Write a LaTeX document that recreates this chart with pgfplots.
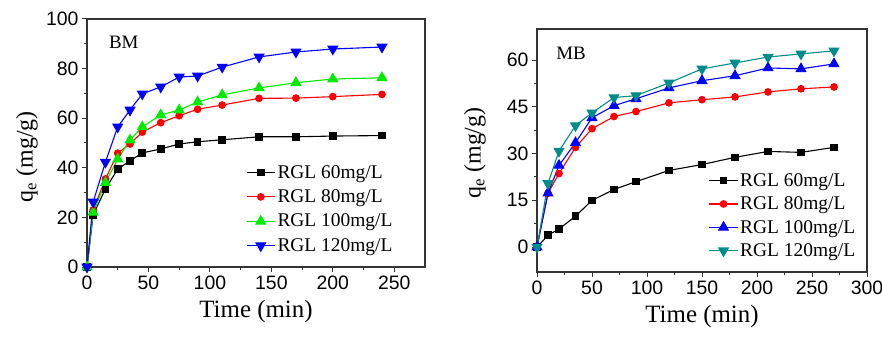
\documentclass[border=0pt]{standalone}
\usepackage{fontspec}
\setmainfont{Liberation Serif}
\setsansfont{Liberation Sans}
\usepackage{pgfplots}
\pgfplotsset{compat=1.18}
\definecolor{mygreen}{RGB}{0,235,0}
\definecolor{myteal}{RGB}{0,140,140}
\begin{document}
\begin{tikzpicture}
\useasboundingbox (0bp,0bp) rectangle (882bp,338bp);
\pgfplotsset{
  every axis/.append style={
    scale only axis,
    axis line style={line width=1.2bp, black!80},
    tick pos=left, tick align=outside,
    major tick length=5bp, minor tick length=3bp,
    every tick/.style={line width=1bp, black!80},
    tick label style={font=\fontsize{19.5}{20}\selectfont\sffamily},
    /pgf/number format/assume math mode=true,
    xlabel style={font=\fontsize{25}{26}\selectfont, yshift=-4bp},
    legend style={draw=none, fill=none, font=\fontsize{19.5}{20}\selectfont, row sep=6bp, inner sep=0pt},
    legend cell align=left,
    legend image code/.code={\draw[mark repeat=2,mark phase=2] plot coordinates {(0cm,0cm) (0.5cm,0cm) (1cm,0cm)};},
    xlabel={Time (min)},
    ylabel={q\textsubscript{e} (mg/g)},
    minor x tick num=1, minor y tick num=1,
    every axis plot/.append style={line width=1.1bp},
  }
}
% Left: BM
\begin{axis}[at={(87bp,71bp)}, anchor=south west, width=338bp, height=248bp,
  xmin=0, xmax=275, ymin=0, ymax=100,
  xtick={0,50,...,250}, ytick={0,20,...,100},
  every axis y label/.style={at={(axis description cs:-0.178,0.444)}, rotate=90, anchor=center, font=\fontsize{24}{25}\selectfont},
  legend style={at={(0.47,0.419)}, anchor=north west}]
\addplot[black, mark=square*, mark size=3.3] coordinates {(0,0)(5,21)(15,31.5)(25,39.5)(35,42.8)(45,46)(60,47.6)(75,49.6)(90,50.5)(110,51.3)(140,52.5)(170,52.5)(200,52.8)(240,53)};
\addplot[red, mark=*, mark size=3.3] coordinates {(0,0)(5,23)(15,35.5)(25,45.9)(35,49.6)(45,54.4)(60,58.2)(75,61)(90,63.6)(110,65.3)(140,68)(170,68.1)(200,68.7)(240,69.6)};
\addplot[mygreen, mark=triangle*, mark size=5.5] coordinates {(0,0)(5,22)(15,34)(25,43.5)(35,51.2)(45,56.5)(60,61.3)(75,63.3)(90,66.5)(110,69.4)(140,72.2)(170,74.3)(200,75.8)(240,76.3)};
\addplot[blue, mark=triangle*, mark options={rotate=180}, mark size=5.5] coordinates {(0,0)(5,26.2)(15,42.3)(25,56.5)(35,63.3)(45,69.8)(60,72.6)(75,76.6)(90,77)(110,80.6)(140,84.7)(170,86.7)(200,87.9)(240,88.7)};
\legend{RGL 60mg/L, RGL 80mg/L, RGL 100mg/L, RGL 120mg/L}
\node[anchor=west, font=\fontsize{19}{20}\selectfont] at (rel axis cs:0.055,0.905) {BM};
\end{axis}
% Right: MB
\begin{axis}[at={(537bp,66bp)}, anchor=south west, width=330bp, height=243bp,
  xmin=0, xmax=300, ymin=-8, ymax=70,
  xtick={0,50,...,300}, ytick={0,15,...,60},
  every axis y label/.style={at={(axis description cs:-0.188,0.49)}, rotate=90, anchor=center, font=\fontsize{24}{25}\selectfont},
  legend style={at={(0.52,0.415)}, anchor=north west, row sep=5bp}]
\addplot[black, mark=square*, mark size=3.3] coordinates {(0,0)(10,3.8)(20,5.8)(35,9.9)(50,15)(70,18.5)(90,21)(120,24.6)(150,26.5)(180,28.8)(210,30.7)(240,30.4)(270,32)};
\addplot[red, mark=*, mark size=3.3] coordinates {(0,0)(10,17.3)(20,23.6)(35,32)(50,38)(70,41.9)(90,43.5)(120,46.3)(150,47.3)(180,48.2)(210,49.8)(240,50.8)(270,51.4)};
\addplot[blue, mark=triangle*, mark size=5.5] coordinates {(0,0)(10,17.3)(20,26.2)(35,33.5)(50,41.5)(70,45.4)(90,47.6)(120,51.1)(150,53.4)(180,55)(210,57.5)(240,57.2)(270,58.8)};
\addplot[myteal, mark=triangle*, mark options={rotate=180}, mark size=5.5] coordinates {(0,0)(10,20.4)(20,30.8)(35,39)(50,43.1)(70,48)(90,48.6)(120,52.7)(150,57.2)(180,59.1)(210,61)(240,62)(270,63)};
\legend{RGL 60mg/L, RGL 80mg/L, RGL 100mg/L, RGL 120mg/L}
\node[anchor=west, font=\fontsize{19}{20}\selectfont] at (rel axis cs:0.048,0.90) {MB};
\end{axis}
\end{tikzpicture}
\end{document}
